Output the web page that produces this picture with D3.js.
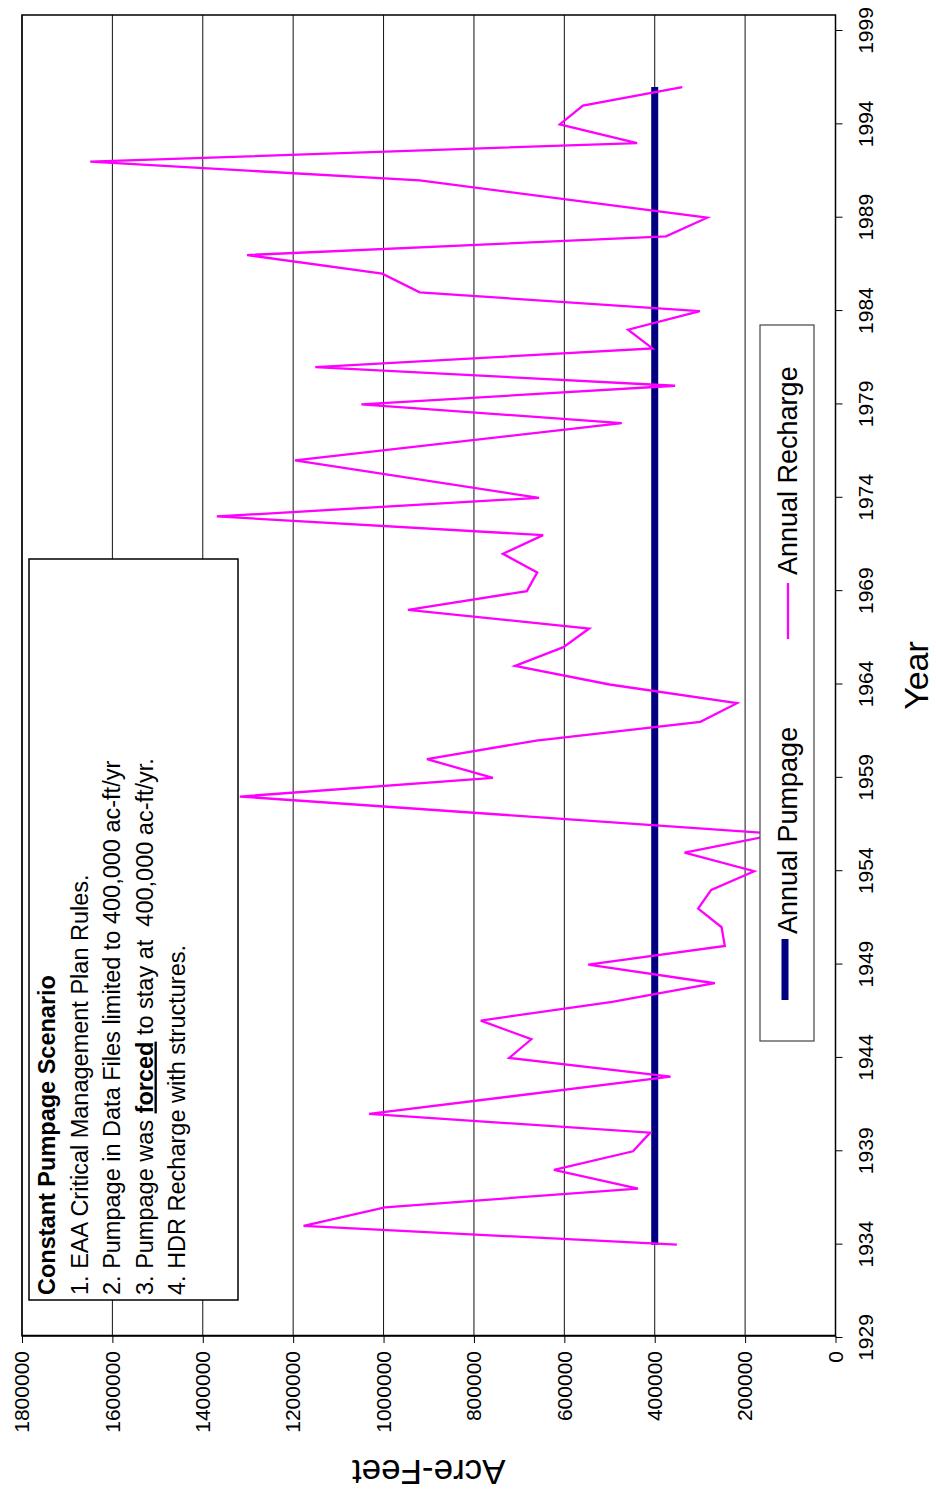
<!DOCTYPE html>
<html>
<head>
<meta charset="utf-8">
<script src="https://cdn.jsdelivr.net/npm/d3@7"></script>
<style>
  html, body { margin: 0; padding: 0; background: #fff; }
  svg { display: block; }
  text { font-family: "Liberation Sans", Arial, sans-serif; fill: #000; }
</style>
</head>
<body>
<svg id="chart" width="936" height="1498"></svg>
<script>
// ---------------- data ----------------
const years = [1934, 1935, 1936, 1937, 1938, 1939, 1940, 1941, 1942, 1943,
  1944, 1945, 1946, 1947, 1948, 1949, 1950, 1951, 1952, 1953,
  1954, 1955, 1956, 1957, 1958, 1959, 1960, 1961, 1962, 1963,
  1964, 1965, 1966, 1967, 1968, 1969, 1970, 1971, 1972, 1973,
  1974, 1975, 1976, 1977, 1978, 1979, 1980, 1981, 1982, 1983,
  1984, 1985, 1986, 1987, 1988, 1989, 1990, 1991, 1992, 1993,
  1994, 1995, 1996];

// Annual Recharge (acre-feet); null = no vertex visible (line connects across)
const recharge = [351000, 1177000, 997000, 437000, 623000, 448000, 410000, 1032000, null, 365000,
  722000, 673000, 785000, 494000, 267000, 547000, 245000, 252000, 304000, 275000,
  180000, 334000, 125000, null, 1318000, 758000, 904000, 662000, 299000, 218000,
  500000, 709000, 602000, 545000, 946000, 683000, 660000, 736000, 647000, 1369000,
  656000, null, 1196000, null, 473000, 1049000, 355000, 1151000, 405000, 459000,
  300000, 920000, 1003000, 1302000, 375000, 284000, null, 920000, 1649000, 439000,
  610000, 559000, 339000];

// Annual Pumpage (acre-feet), held constant
const pumpage = [400000, 400000, 400000, 400000, 400000, 400000, 400000, 400000, 400000, 400000,
  400000, 400000, 400000, 400000, 400000, 400000, 400000, 400000, 400000, 400000,
  400000, 400000, 400000, 400000, 400000, 400000, 400000, 400000, 400000, 400000,
  400000, 400000, 400000, 400000, 400000, 400000, 400000, 400000, 400000, 400000,
  400000, 400000, 400000, 400000, 400000, 400000, 400000, 400000, 400000, 400000,
  400000, 400000, 400000, 400000, 400000, 400000, 400000, 400000, 400000, 400000,
  400000, 400000, 400000];

const valueTicks = [0, 200000, 400000, 600000, 800000, 1000000, 1200000, 1400000, 1600000, 1800000];
const yearTicks = [1929, 1934, 1939, 1944, 1949, 1954, 1959, 1964, 1969, 1974, 1979, 1984, 1989, 1994, 1999];

const seriesNames = ["Annual Pumpage", "Annual Recharge"];
const noteTitle = "Constant Pumpage Scenario";
const noteLines = [
  ["1. EAA Critical Management Plan Rules."],
  ["2. Pumpage in Data Files limited to 400,000 ac-ft/yr"],
  ["3. Pumpage was ", "forced", " to stay at  400,000 ac-ft/yr."],
  ["4. HDR Recharge with structures."]
];

// ---------------- layout (drawn in landscape, then rotated -90deg) ----------------
const W = 1498, H = 936;
const plot = { left: 162, right: 1483, top: 22, bottom: 835.5 };
const PUMP_COLOR = "#000080", RECH_COLOR = "#FF00FF";

const svg = d3.select("#chart");
const g = svg.append("g").attr("transform", `translate(0,${W}) rotate(-90)`);

const x = d3.scaleLinear().domain([1929, 1999]).range([160, 1467]);
const y = d3.scaleLinear().domain([0, 1800000]).range([plot.bottom, plot.top]);

// plot background
g.append("rect").attr("x", plot.left).attr("y", plot.top)
  .attr("width", plot.right - plot.left).attr("height", plot.bottom - plot.top)
  .attr("fill", "#fff");

// gridlines
g.append("g").selectAll("line").data(valueTicks.filter(d => d > 0)).join("line")
  .attr("x1", plot.left).attr("x2", plot.right)
  .attr("y1", d => y(d)).attr("y2", d => y(d))
  .attr("stroke", "#111").attr("stroke-width", 1);

// series
const pumpData = years.map((yr, i) => [yr, pumpage[i]]).filter(d => d[1] != null);
const rechData = years.map((yr, i) => [yr, recharge[i]]).filter(d => d[1] != null);
const line = d3.line().x(d => x(d[0])).y(d => y(d[1]));

g.append("path").datum(pumpData).attr("d", line)
  .attr("fill", "none").attr("stroke", PUMP_COLOR).attr("stroke-width", 7);
g.append("path").datum(rechData).attr("d", line)
  .attr("fill", "none").attr("stroke", RECH_COLOR).attr("stroke-width", 2.3)
  .attr("stroke-linejoin", "miter");

// plot border
g.append("rect").attr("x", plot.left).attr("y", plot.top)
  .attr("width", plot.right - plot.left).attr("height", plot.bottom - plot.top)
  .attr("fill", "none").attr("stroke", "#000").attr("stroke-width", 1.5);

// value axis (left in landscape)
const yAxis = d3.axisLeft(y).tickValues(valueTicks).tickSize(7).tickSizeOuter(0)
  .tickPadding(8).tickFormat(d3.format("d"));
const ya = g.append("g").attr("transform", `translate(${plot.left},0)`).call(yAxis);
ya.select(".domain").attr("stroke", "#000").attr("stroke-width", 1.5);
ya.selectAll(".tick line").attr("stroke", "#000").attr("stroke-width", 1);
ya.selectAll(".tick text").attr("font-size", 21)
  .attr("font-family", "'Liberation Sans', Arial, sans-serif").attr("fill", "#000");

// year axis (bottom in landscape)
const xAxis = d3.axisBottom(x).tickValues(yearTicks).tickSize(7).tickSizeOuter(0)
  .tickPadding(15.5).tickFormat(d3.format("d"));
const xa = g.append("g").attr("transform", `translate(0,${plot.bottom})`).call(xAxis);
xa.select(".domain").remove();
xa.selectAll(".tick line").attr("stroke", "#000").attr("stroke-width", 1);
xa.selectAll(".tick text").attr("font-size", 21)
  .attr("font-family", "'Liberation Sans', Arial, sans-serif").attr("fill", "#000");

// axis titles
g.append("text").attr("x", (plot.left + plot.right) / 2).attr("y", 928)
  .attr("text-anchor", "middle").attr("font-size", 34).text("Year");
g.append("text").attr("transform", `translate(38,${(plot.top + plot.bottom) / 2}) rotate(-90)`)
  .attr("text-anchor", "middle").attr("font-size", 35).text("Acre-Feet");

// legend
const lg = g.append("g");
lg.append("rect").attr("x", 457).attr("y", 760).attr("width", 716).attr("height", 54)
  .attr("fill", "#fff").attr("stroke", "#444").attr("stroke-width", 1.2);
lg.append("line").attr("x1", 498).attr("x2", 559).attr("y1", 785).attr("y2", 785)
  .attr("stroke", PUMP_COLOR).attr("stroke-width", 7);
lg.append("text").attr("x", 564).attr("y", 797).attr("font-size", 27).text(seriesNames[0]);
lg.append("line").attr("x1", 859).attr("x2", 915).attr("y1", 788).attr("y2", 788)
  .attr("stroke", RECH_COLOR).attr("stroke-width", 2.3);
lg.append("text").attr("x", 923).attr("y", 797).attr("font-size", 27).text(seriesNames[1]);

// note box
const nb = g.append("g");
nb.append("rect").attr("x", 198).attr("y", 29).attr("width", 741).attr("height", 209)
  .attr("fill", "#fff").attr("stroke", "#000").attr("stroke-width", 1.5);
nb.append("text").attr("x", 203).attr("y", 55).attr("font-size", 23.5)
  .attr("font-weight", "bold").text(noteTitle);
noteLines.forEach((parts, i) => {
  const t = nb.append("text").attr("x", 203).attr("y", 87.5 + i * 32.5)
    .attr("font-size", 23.5).attr("xml:space", "preserve").style("white-space", "pre");
  parts.forEach((p, j) => {
    const ts = t.append("tspan").text(p);
    if (parts.length > 1 && j === 1) {
      ts.attr("font-weight", "bold").style("text-decoration", "underline");
    }
  });
});
</script>
</body>
</html>
